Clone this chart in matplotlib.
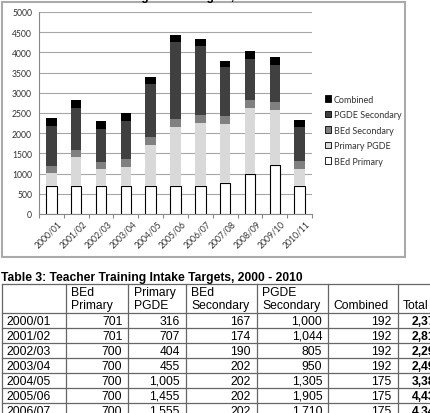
import matplotlib
matplotlib.use('Agg')
import matplotlib.pyplot as plt
from matplotlib.patches import Rectangle
from matplotlib.lines import Line2D
import matplotlib.transforms as mtransforms
import numpy as np

# ---------------- data ----------------
years = ['2000/01', '2001/02', '2002/03', '2003/04', '2004/05', '2005/06',
         '2006/07', '2007/08', '2008/09', '2009/10', '2010/11']
bed_primary = [701, 701, 700, 700, 700, 700, 700, 760, 990, 1210, 700]
primary_pgde = [316, 707, 404, 455, 1005, 1455, 1555, 1470, 1640, 1370, 410]
bed_secondary = [167, 174, 190, 202, 202, 202, 202, 190, 200, 200, 195]
pgde_secondary = [1000, 1044, 805, 950, 1305, 1905, 1710, 1210, 1010, 910, 840]
combined = [192, 192, 192, 192, 175, 175, 175, 165, 190, 190, 180]

series_names = ['BEd Primary', 'Primary PGDE', 'BEd Secondary', 'PGDE Secondary', 'Combined']
series_colors = ['#ffffff', '#d9d9d9', '#808080', '#404040', '#000000']

chart_title = 'Teacher Training Intake Targets, 2000 - 2010'
table_title = 'Table 3: Teacher Training Intake Targets, 2000 - 2010'
table_headers = ['', 'BEd\nPrimary', 'Primary\nPGDE', 'BEd\nSecondary', 'PGDE\nSecondary', 'Combined', 'Total']
table_rows = 7

# ---------------- figure ----------------
W, H = 431, 414
fig = plt.figure(figsize=(W / 100, H / 100), dpi=100)
fig.patch.set_facecolor('white')


def fx(px):
    return px / W


def fy(py):
    return 1 - py / H


chart_font = 'Lato'
text_col = '#333333'

ax = fig.add_axes([fx(39), fy(215), fx(312) - fx(39), fy(13) - fy(215)])
x = np.arange(len(years))
all_series = [bed_primary, primary_pgde, bed_secondary, pgde_secondary, combined]
bottom = np.zeros(len(years))
handles = []
for vals, name, color in zip(all_series, series_names, series_colors):
    if color == '#ffffff':
        h = ax.bar(x, vals, width=0.42, bottom=bottom, color=color,
                   edgecolor='black', linewidth=0.8, label=name, zorder=3)
    else:
        h = ax.bar(x, vals, width=0.42, bottom=bottom, color=color,
                   linewidth=0, label=name, zorder=3)
    handles.append(h)
    bottom = bottom + np.array(vals)

ax.set_xlim(-0.5, len(years) - 0.5)
ax.set_ylim(0, 5000)
ax.set_yticks(range(0, 5001, 500))
ax.yaxis.grid(True, color='#a6a6a6', lw=0.8)
ax.set_axisbelow(True)
for s in ['top', 'right']:
    ax.spines[s].set_visible(False)
for s in ['left', 'bottom']:
    ax.spines[s].set_color('#888888')
    ax.spines[s].set_linewidth(0.8)
ax.tick_params(axis='y', length=0, labelsize=6.2, labelcolor=text_col, pad=5)
for lab in ax.get_yticklabels():
    lab.set_fontfamily(chart_font)
ax.set_xticks(x)
ax.set_xticks(np.arange(-0.5, len(years), 1.0), minor=True)
ax.tick_params(axis='x', which='major', length=0, pad=1)
ax.tick_params(axis='x', which='minor', length=3, color='#888888', width=0.8)
ax.set_xticklabels(years, rotation=45, ha='right', rotation_mode='anchor',
                   fontsize=6.2, color=text_col, fontfamily=chart_font)
offset = mtransforms.ScaledTranslation(6 / 100, -3 / 100, fig.dpi_scale_trans)
for lab in ax.get_xticklabels():
    lab.set_transform(lab.get_transform() + offset)

leg = ax.legend(handles[::-1], series_names[::-1], loc='upper left',
                bbox_to_anchor=(fx(321), fy(92)), bbox_transform=fig.transFigure,
                frameon=False, prop={'family': chart_font, 'size': 6.5},
                handlelength=0.7, handleheight=0.7, handletextpad=0.35,
                labelspacing=0.72, borderaxespad=0)
for t in leg.get_texts():
    t.set_color(text_col)
for p in leg.legend_handles:
    p.set_edgecolor('black')
    p.set_linewidth(0.6)

# chart frame
fig.add_artist(Rectangle((fx(2), fy(258)), fx(405) - fx(2), fy(3) - fy(258),
                         transform=fig.transFigure, fill=False,
                         edgecolor='#aaaaaa', lw=1.5))

# ---------------- overlay for title & table ----------------
tax = fig.add_axes([0, 0, 1, 1], zorder=5)
tax.set_xlim(0, W)
tax.set_ylim(H, 0)
tax.axis('off')
tax.patch.set_alpha(0)

tax.text(178, 0.3, chart_title, ha='center', va='baseline', fontweight='bold',
         fontsize=8.5, fontfamily='Liberation Sans', clip_on=False)

tfont = 'Liberation Sans'
tsize = 8.7
tax.text(1.5, 278, table_title, ha='left', va='center', fontweight='bold',
         fontsize=tsize, fontfamily=tfont)

col_x = [1.7, 65.7, 128.3, 185.7, 256.7, 328.3, 397.7, 448]
row_y = [285, 314, 329.3, 344.3, 359.3, 374.3, 389.3, 404.3, 419.3, 434.3]
line_col = '#666666'
for yy in row_y:
    tax.add_line(Line2D([col_x[0], col_x[-1]], [yy, yy], color=line_col, lw=0.9))
for xx in col_x:
    tax.add_line(Line2D([xx, xx], [row_y[0], row_y[-1]], color=line_col, lw=0.9))

for j, hdr in enumerate(table_headers):
    parts = hdr.split('\n')
    if len(parts) == 1:
        parts = ['', parts[0]]
    for k, ptxt in enumerate(parts):
        if ptxt:
            tax.text(col_x[j] + 5.5, [293.5, 306.5][k], ptxt, ha='left', va='center',
                     fontsize=tsize, fontfamily=tfont)

for i in range(table_rows):
    vals = [s[i] for s in all_series]
    total = sum(vals)
    yc = (row_y[i + 1] + row_y[i + 2]) / 2
    tax.text(col_x[0] + 5, yc, years[i], ha='left', va='center',
             fontsize=tsize, fontfamily=tfont)
    for j, v in enumerate(vals):
        tax.text(col_x[j + 2] - 6, yc, f'{v:,}', ha='right', va='center',
                 fontsize=tsize, fontfamily=tfont)
    tax.text(col_x[7] - 6, yc, f'{total:,}', ha='right', va='center',
             fontsize=tsize, fontfamily=tfont, fontweight='bold')

fig.savefig('out.png', dpi=100)
